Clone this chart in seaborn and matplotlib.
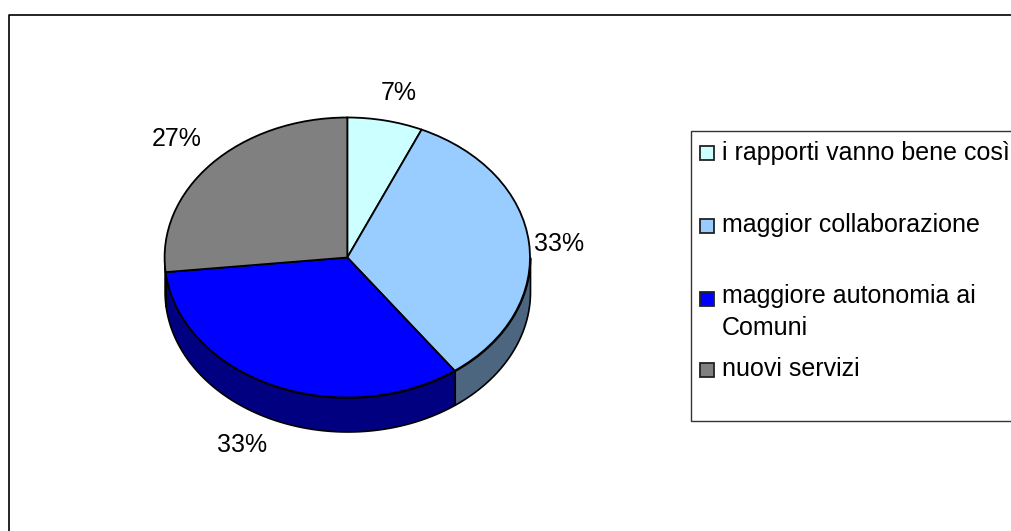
import numpy as np
import seaborn as sns
import matplotlib.pyplot as plt
from matplotlib.patches import Rectangle

categorie = ['i rapporti vanno bene così', 'maggior collaborazione',
             'maggiore autonomia ai\nComuni', 'nuovi servizi']
valori = [2, 10, 10, 8]
colori = ['#CCFFFF', '#99CCFF', '#0000FF', '#808080']
colori_lato = ['#668080', '#4D6680', '#000080', '#404040']

sns.set_theme(style='white')
plt.rcParams['font.family'] = ['Liberation Sans', 'DejaVu Sans']

W, H = 1011, 531
fig = plt.figure(figsize=(W / 100, H / 100), dpi=100, facecolor='white')

# fondo in pixel per cornice, legenda e percentuali
bg = fig.add_axes([0, 0, 1, 1])
bg.set_xlim(0, W)
bg.set_ylim(H, 0)
bg.axis('off')
bg.plot([9, 9, W], [H, 14.5, 14.5], color='black', lw=1.2)

# torta schiacciata: raggio 1 = 182.7 x 140 pixel
cx, cy, rx, ry = 347.3, 257.5, 182.7, 140.0
prof = 34 / ry
ax = fig.add_axes([(cx - 1.5 * rx) / W, 1 - (cy + 1.5 * ry) / H, 3 * rx / W, 3 * ry / H])

fine = 90 - 360 * np.cumsum(valori) / sum(valori)
inizio = np.r_[90, fine[:-1]]

for a, b, c in zip(inizio, fine, colori_lato):
    # solo la parte davanti del bordo (seno negativo)
    lo, hi = max(b, -180), min(a, 0)
    if lo >= hi:
        continue
    t = np.radians(np.linspace(lo, hi, 120))
    ax.fill_between(np.cos(t), np.sin(t), np.sin(t) - prof, facecolor=c,
                    edgecolor='black', lw=1.2, zorder=1)

wedges, _ = ax.pie(valori, colors=colori, startangle=90, counterclock=False,
                   wedgeprops={'edgecolor': 'black', 'linewidth': 1.3, 'zorder': 2})
ax.set_aspect('auto')
ax.set_xlim(-1.5, 1.5)
ax.set_ylim(-1.5, 1.5)
ax.axis('off')

# percentuali
etichette = [f'{100 * v / sum(valori):.0f}%' for v in valori]
pos_etichette = [(399, 93), (559, 244), (242, 445), (177, 139)]
for (x, y), s in zip(pos_etichette, etichette):
    bg.text(x, y, s, ha='center', va='center', fontsize=18, color='black')

# legenda disegnata a mano, tagliata dal bordo destro come nell'originale
bg.add_patch(Rectangle((690.5, 130.5), 340, 290, facecolor='white', edgecolor='#333333', lw=1.0, zorder=3))
y_testo = [153, 225, 312, 369]
y_quadro = [153, 225.5, 298.5, 370]
for t, yt, yq, c in zip(categorie, y_testo, y_quadro, colori):
    bg.add_patch(Rectangle((700, yq - 7), 14, 14, facecolor=c, edgecolor='#222222', lw=1.3, zorder=4))
    bg.text(722, yt, t, ha='left', va='center', fontsize=18, color='black', zorder=4,
            linespacing=1.37)

fig.savefig('out.png', dpi=100)
